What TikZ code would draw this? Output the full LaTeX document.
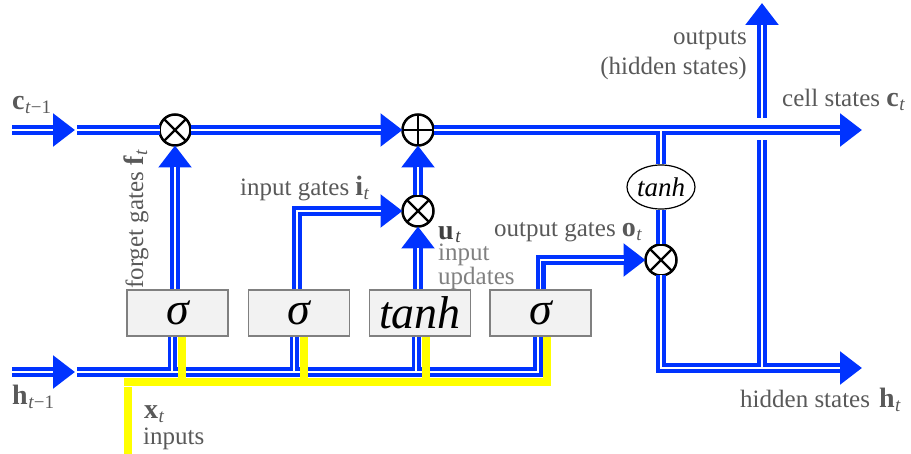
\documentclass[tikz,border=0pt]{standalone}
\usepackage{fontspec}
\setmainfont{Liberation Serif}
\usetikzlibrary{arrows.meta,shapes.geometric}
\definecolor{pblue}{RGB}{0,51,255}
\definecolor{ygate}{RGB}{255,255,0}
\definecolor{lblgray}{RGB}{89,89,89}
\definecolor{lightlbl}{RGB}{128,128,128}
\definecolor{udark}{RGB}{64,64,64}
\definecolor{boxfill}{RGB}{242,242,242}
\definecolor{boxline}{RGB}{128,128,128}
\newcommand\bvec[2]{{\fontsize{28}{28}\selectfont\textbf{#1}}\kern0.5pt\raisebox{-4pt}{\fontsize{19}{20}\selectfont #2}}
\newcommand\bvecu[2]{{\fontsize{28}{28}\selectfont\textbf{#1}}\kern1.5pt\raisebox{-2.5pt}{\fontsize{19}{20}\selectfont #2}}
\begin{document}
\begin{tikzpicture}[x=1pt,y=-1pt,
  pipe/.style={draw=pblue, line width=10pt},
  pipeA/.style={pipe, -{Triangle[length=22pt,width=32pt]}},
  thinpipe/.style={draw=pblue, line width=9pt},
  core/.style={draw=white, line width=1.4pt},
  coreA/.style={core, shorten >=22pt},
  ywire/.style={draw=ygate, line width=8pt},
  gatebox/.style={draw=boxline, fill=boxfill, line width=1.5pt, minimum width=101pt, minimum height=46pt, inner sep=0pt, font=\fontsize{46}{50}\selectfont\itshape},
  opcirc/.style={circle, draw=black, fill=white, line width=2.5pt, minimum size=31pt, inner sep=0pt, outer sep=0pt},
  crossline/.style={draw=black, line width=2.2pt},
  lbl/.style={text=lblgray, inner sep=0pt, font=\fontsize{25}{28}\selectfont},
]
\useasboundingbox (0,0) rectangle (911,454);

% gate boxes
\node[gatebox] (box1) at (177.5,313) {σ};
\node[gatebox] (box2) at (299,313) {σ};
\node[gatebox] (box3) at (420,313) {tanh};
\node[gatebox] (box4) at (540.5,313) {σ};

% operators
\node[opcirc] (fx) at (175,130) {};
\node[opcirc] (oplus) at (418,130) {};
\node[opcirc] (ix) at (418,211) {};
\node[opcirc] (ox) at (661,260) {};
\node[ellipse, draw=black, fill=white, line width=1.2pt, minimum width=68pt, minimum height=44pt, inner sep=0pt, font=\fontsize{27}{30}\selectfont\itshape] (tanh) at (661,187) {tanh};

\draw[crossline] (fx.north west) -- (fx.south east) (fx.north east) -- (fx.south west);
\draw[crossline] (ix.north west) -- (ix.south east) (ix.north east) -- (ix.south west);
\draw[crossline] (ox.north west) -- (ox.south east) (ox.north east) -- (ox.south west);
\draw[crossline] (oplus.north) -- (oplus.south) (oplus.west) -- (oplus.east);

% free ends
\coordinate (cA) at (12,130);
\coordinate (cB) at (75,130);
\coordinate (cC) at (77,130);
\coordinate (cEnd) at (862,130);
\coordinate (hA) at (12,372);
\coordinate (hB) at (75,372);
\coordinate (hC) at (77,372);
\coordinate (hoEnd) at (862,368);
\coordinate (vTop) at (762,3);
\coordinate (vU) at (762,118);
\coordinate (vL) at (762,140);
\coordinate (vB) at (762,368);
\coordinate (yH) at (124,382);
\coordinate (yBot) at (128,454);
\coordinate (yTop) at (128,387);
\coordinate (b1) at ([xshift=-5.5pt]box1.south);
\coordinate (b2) at ([xshift=-5pt]box2.south);
\coordinate (b3) at ([xshift=-4pt]box3.south);
\coordinate (b4) at ([xshift=-2.5pt]box4.south);
\coordinate (y1) at ([xshift=4.5pt]box1.south);
\coordinate (y2) at ([xshift=5pt]box2.south);
\coordinate (y3) at ([xshift=6pt]box3.south);
\coordinate (y4) at ([xshift=6.5pt]box4.south);

% blue pass
\draw[pipeA] (cA) -- (cB);
\draw[pipe] (cC) -- (fx.west);
\draw[pipeA] (fx.east) -- (oplus.west);
\draw[pipeA] (oplus.east) -- (cEnd);
\draw[pipeA] (fx.south |- box1.north) -- (fx.south);
\draw[pipeA] ([xshift=-2pt]box2.north) |- (ix.west);
\draw[pipeA] (ix.south |- box3.north) -- (ix.south);
\draw[pipeA] (ix.north) -- (oplus.south);
\draw[pipeA] (box4.north) |- (ox.west);
\draw[pipe] (tanh.north |- cEnd) -- (tanh.north);
\draw[pipe] (tanh.south) -- (ox.north);
\draw[pipeA] (ox.south) |- (hoEnd);
\draw[pipe] (vB) -- (vL);
\draw[pipeA] (vU) -- (vTop);
\draw[pipeA] (hA) -- (hB);
\draw[pipe] (hC) -| (b4);
\draw[thinpipe] (b1) -- (b1 |- hC);
\draw[thinpipe] (b2) -- (b2 |- hC);
\draw[thinpipe] (b3) -- (b3 |- hC);

% white cores
\draw[coreA] (cA) -- (cB);
\draw[core] (cC) -- (fx.west);
\draw[coreA] (fx.east) -- (oplus.west);
\draw[coreA] (oplus.east) -- (cEnd);
\draw[coreA] (fx.south |- box1.north) -- (fx.south);
\draw[coreA] ([xshift=-2pt]box2.north) |- (ix.west);
\draw[coreA] (ix.south |- box3.north) -- (ix.south);
\draw[coreA] (ix.north) -- (oplus.south);
\draw[coreA] (box4.north) |- (ox.west);
\draw[core] (tanh.north |- cEnd) -- (tanh.north);
\draw[core] (tanh.south) -- (ox.north);
\draw[coreA] (ox.south) |- (hoEnd);
\draw[core] (vB) -- (vL);
\draw[coreA] (vU) -- (vTop);
\draw[coreA] (hA) -- (hB);
\draw[core] (hC) -| (b4);
\draw[core] (b1) -- (b1 |- hC);
\draw[core] (b2) -- (b2 |- hC);
\draw[core] (b3) -- (b3 |- hC);

% yellow input wires
\draw[ywire] (yBot) -- (yTop);
\draw[ywire] (yH) -| (y4);
\draw[ywire] (y1) -- (y1 |- yH);
\draw[ywire] (y2) -- (y2 |- yH);
\draw[ywire] (y3) -- (y3 |- yH);

% labels
\node[lbl, anchor=base west] (lc) at (12,110) {\bvec{c}{\textit{t}−1}};
\node[lbl, anchor=base west] (lh) at (12,405) {\bvec{h}{\textit{t}−1}};
\node[lbl, anchor=base west, rotate=90] (lf) at (143,289) {forget gates \bvec{f}{\textit{t}}};
\node[lbl, anchor=base west] (li) at (240,196) {input gates \bvec{i}{\textit{t}}};
\node[lbl, anchor=base west, text=udark] (lu) at (438,240) {\bvecu{u}{\textit{t}}};
\node[lbl, anchor=north west, align=left, text=lightlbl, font=\fontsize{25}{19}\selectfont] (lu2) at (438,244) {input\\updates};
\node[lbl, anchor=base west] (lo) at (494,237) {output gates \bvec{o}{\textit{t}}};
\node[lbl, anchor=base east] (lout1) at (747,45) {outputs};
\node[lbl, anchor=base east] (lout2) at (747,75) {(hidden states)};
\node[lbl, anchor=base west] (lcs) at (782,107) {cell states \bvec{c}{\textit{t}}};
\node[lbl, anchor=base west] (lhs) at (740,408) {hidden states\hspace{9pt}\bvec{h}{\textit{t}}};
\node[lbl, anchor=base west] (lx) at (144,419) {\bvec{x}{\textit{t}}};
\node[lbl, anchor=base west] (lin) at (143,445) {inputs};
\end{tikzpicture}
\end{document}
